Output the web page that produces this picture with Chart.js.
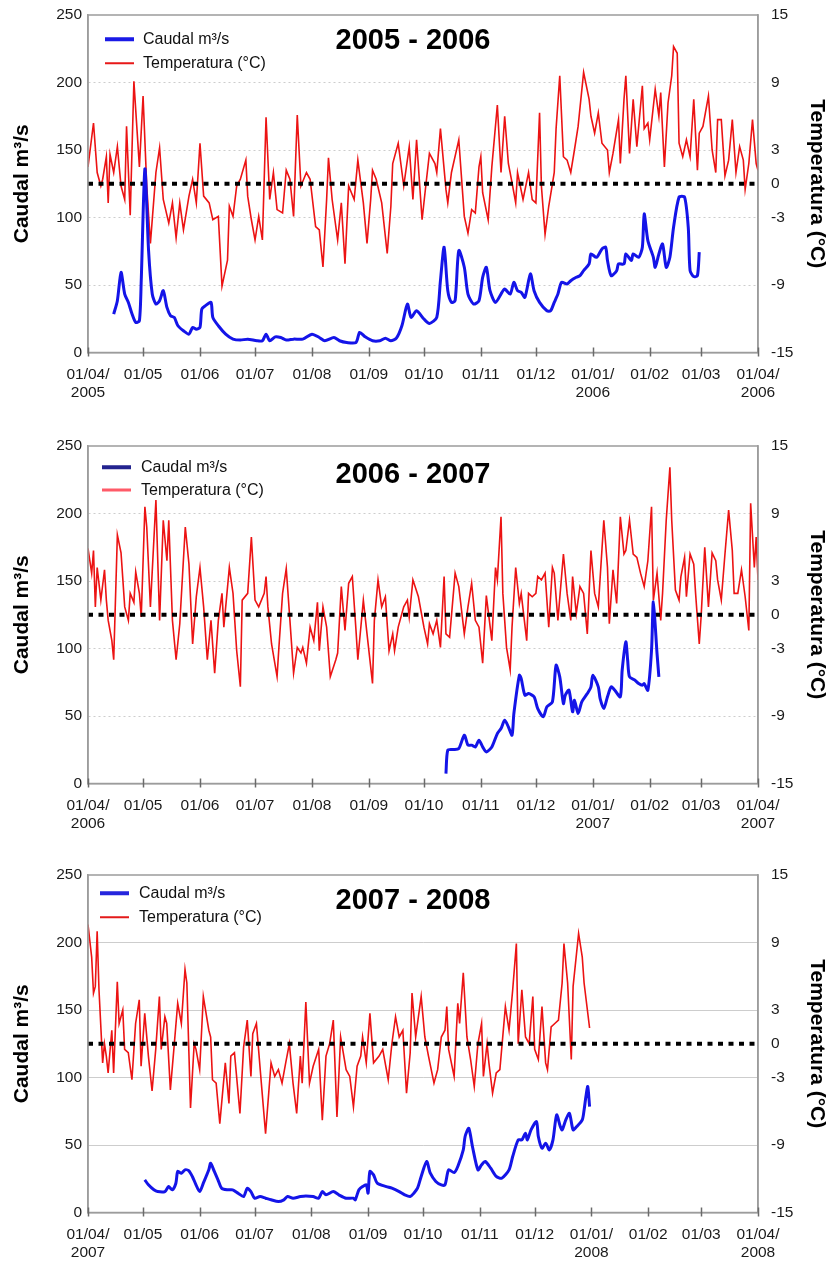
<!DOCTYPE html>
<html>
<head>
<meta charset="utf-8">
<script src="https://cdn.jsdelivr.net/npm/chart.js@4.4.0/dist/chart.umd.min.js"></script>
<style>
  html, body { margin: 0; padding: 0; background: #fff; width: 829px; height: 1261px; overflow: hidden; }
  .panel { position: absolute; left: 0; width: 829px; height: 405px; }
  .panel canvas { position: absolute; left: 0; top: 0; }
  .ttl { position: absolute; left: 413px; font: bold 29px "Liberation Sans", Arial, sans-serif; color: #000;
         white-space: nowrap; transform: translate(-50%, -50%); }
  .leg { position: absolute; font: 16px "Liberation Sans", Arial, sans-serif; color: #111; white-space: nowrap;
         transform: translateY(-50%); }
  .sw { position: absolute; transform: translateY(-50%); }
</style>
</head>
<body>
<div class="panel" id="p0" style="top:0px"><canvas id="c0" width="829" height="405"></canvas></div>
<div class="panel" id="p1" style="top:431px"><canvas id="c1" width="829" height="405"></canvas></div>
<div class="panel" id="p2" style="top:860px"><canvas id="c2" width="829" height="405"></canvas></div>

<script>
// ---- Axis labels ----
const monthText = ["01/04/", "01/05", "01/06", "01/07", "01/08", "01/09", "01/10",
                   "01/11", "01/12", "01/01/", "01/02", "01/03", "01/04/"];
const tempTicks = [-15, -9, -3, 0, 3, 9, 15];

// ---- Season 2005-2006 (day 0 = 01/04/2005) ----
const temp0506Days = [0,3,5,7,8,10,11,12,14,16,18,20,21,23,25,28,30,32,34,37,39,41,44,46,48,50,52,55,57,59,
  61,63,66,68,71,73,76,77,79,81,83,86,87,89,91,93,95,97,99,101,103,106,108,110,112,114,116,119,121,124,
  126,128,130,131,133,136,138,140,142,145,147,150,152,154,155,157,160,163,165,166,169,172,175,177,179,182,184,186,189,190,
  192,195,196,198,202,205,207,209,211,213,214,215,218,220,223,225,227,229,231,233,234,237,240,242,244,246,247,249,251,254,
  255,257,259,261,263,265,267,270,273,274,276,278,280,283,284,286,289,290,292,293,295,297,299,302,303,305,306,309,311,312,
  314,316,318,319,321,322,324,326,328,330,332,333,335,338,340,342,343,345,347,349,351,353,355,357,358,360,362,364,365];
const temp0506 = [1.5,5.4,1.0,-0.2,0.4,2.4,-1.7,2.6,1.0,3.3,-0.2,-1.4,5.1,-2.8,9.1,1.5,7.8,-0.2,-5.3,1.0,
  3.2,-1.4,-3.5,-1.7,-4.8,-1.7,-4.1,-1.1,0.4,-1.7,3.6,-1.1,-1.7,-3.2,-2.9,-9.1,-6.8,-2.0,-2.9,-0.2,
  0.4,2.1,-1.1,-3.2,-5.0,-2.9,-5.0,5.9,-1.4,1.0,-2.3,-2.6,1.2,0.4,-2.9,6.1,-0.2,1.0,0.4,-3.8,
  -4.1,-7.4,-1.4,2.3,-1.4,-5.0,-1.7,-7.1,-0.2,-1.4,2.1,-1.7,-5.3,-1.4,1.2,0.4,-1.7,-6.2,-2.0,1.8,
  3.6,-0.2,3.3,-1.4,3.9,-3.2,-0.2,2.7,1.8,1.0,4.9,-0.5,-1.7,1.0,3.9,-2.9,-4.4,-2.3,-2.6,1.5,
  2.4,-0.8,-3.2,1.5,7.0,1.0,6.0,1.8,0.1,-1.7,1.0,-1.4,1.0,-1.4,-1.7,6.3,-0.2,-4.5,-2.0,1.0,
  4.9,9.6,2.4,2.1,1.0,3.0,5.1,9.9,7.5,6.0,4.5,6.3,3.6,3.0,1.0,2.7,5.7,1.8,7.5,9.6,
  2.7,7.5,3.3,8.7,4.9,5.4,3.9,8.4,6.0,8.1,1.5,7.2,9.6,12.2,11.6,3.6,2.4,3.9,2.4,7.5,
  1.2,4.5,5.1,7.8,3.0,1.0,5.7,5.7,0.7,2.1,5.7,1.0,3.3,2.1,-0.5,1.8,5.7,1.8,1.2];
const flow0506Days = [14,16,18,20,22,24,26,28,29,31,33,35,37,39,41,43,45,47,49,52,
  55,57,59,61,62,64,67,68,71,75,79,83,87,92,95,97,99,102,105,108,
  112,117,122,126,129,134,137,141,146,148,151,155,159,162,165,168,171,174,176,179,
  183,186,190,192,194,196,198,200,202,205,207,210,213,215,217,219,222,225,227,230,
  232,234,236,238,241,243,246,250,252,254,256,258,261,263,266,268,270,273,274,277,
  280,282,283,285,288,289,292,293,296,297,300,302,303,305,308,309,311,313,315,317,
  319,322,325,327,328,330,332,333];
const flow0506 = [28.5,38.4,59.4,43.3,37.1,28.5,22.3,23.5,53.2,136,75.5,43.3,35.9,38.4,45.8,33.4,27.2,26.0,19.8,16.1,
  13.6,18.6,17.3,18.6,32.2,34.7,37.1,26.0,19.8,13.6,9.9,9.2,9.9,8.7,8.7,13.6,8.7,11.6,11.1,9.2,
  9.9,9.9,13.6,11.1,8.7,11.1,8.7,7.4,7.4,14.9,11.6,8.7,8.7,10.6,8.7,10.6,19.8,35.9,26.0,30.9,
  24.8,21.5,26.0,53.2,78.0,45.8,37.1,38.4,75.5,63.1,43.3,35.9,38.4,55.7,63.1,45.8,37.1,43.3,47.0,43.3,
  52.0,45.8,44.6,40.8,58.2,45.8,37.1,30.9,30.9,37.1,43.3,52.0,50.7,53.2,55.7,56.9,60.6,65.6,73.0,70.5,
  76.7,78.0,68.1,56.9,60.6,65.6,65.6,73.0,68.1,73.0,70.5,78.0,102.7,82.9,70.5,63.1,73.0,80.4,63.1,70.5,
  92.8,115.1,115.1,92.8,60.6,56.2,56.9,74.3];

// ---- Season 2006-2007 (day 0 = 01/04/2006) ----
const temp0607Days = [0,2,3,4,5,7,9,10,11,13,14,16,18,20,22,23,25,26,28,29,
  31,32,34,37,39,41,43,44,46,48,50,53,55,57,59,61,63,65,67,69,
  71,73,74,77,79,81,83,84,87,89,91,93,96,97,98,100,103,104,106,108,
  110,112,114,116,117,119,121,123,125,126,128,130,132,135,136,138,140,142,144,146,
  147,150,152,155,156,158,160,162,164,166,167,169,172,174,175,177,180,183,185,186,
  188,190,192,194,195,197,200,202,205,207,209,211,213,215,217,220,222,223,225,226,
  228,230,231,233,235,236,239,240,242,244,245,247,249,251,253,254,256,259,261,263,
  264,266,268,270,272,274,276,278,281,283,284,286,288,290,292,293,295,297,299,301,
  303,305,307,308,310,312,313,315,317,318,320,322,323,325,326,328,330,331,333,334,
  336,338,340,342,343,345,347,349,351,352,354,356,358,360,361,363,364,365];
const temp0607 = [5.9,3.7,5.7,0.7,4.2,1.3,4.0,1.3,-0.5,-2.3,-4.0,7.1,5.5,0.7,-0.5,1.9,1.1,3.8,1.9,-0.2,
  9.6,7.8,0.7,10.2,-0.5,8.4,4.8,8.4,-0.5,-4.0,-0.8,7.8,4.5,-2.6,1.6,4.2,0.7,-4.0,-0.5,-5.2,
  -0.5,1.9,-1.1,4.2,1.9,-3.2,-6.4,1.3,1.9,6.9,1.3,0.7,1.9,3.4,0.7,-2.6,-5.5,-2.9,1.9,4.1,
  -0.5,-5.2,-2.9,-3.4,-2.9,-4.3,-1.1,-2.3,1.1,-3.2,0.7,-1.1,-5.5,-4.0,-3.4,2.5,-1.4,2.8,3.4,-1.4,
  -4.0,1.3,-1.7,-6.1,-0.5,3.1,0.7,1.6,-3.2,-1.7,-3.2,-1.1,0.7,1.3,-0.2,3.1,1.6,-1.1,-2.6,-0.8,
  -1.7,-0.5,-2.9,3.4,-1.7,-2.0,3.7,2.5,-1.7,0.7,2.8,-0.5,-1.1,-4.3,1.7,-2.3,4.2,3.1,8.7,1.9,
  -2.9,-4.9,-1.1,4.2,1.0,1.9,-2.3,1.9,1.6,1.9,3.4,3.1,3.7,-1.1,4.2,3.7,-0.5,5.4,1.9,-0.5,
  3.4,0.1,2.5,1.9,-1.7,5.7,1.9,0.7,8.4,4.2,-0.8,4.0,1.0,8.7,5.4,5.7,8.4,5.4,5.1,3.7,
  2.5,4.8,9.6,1.3,3.7,-0.5,1.9,8.4,13.1,8.4,2.2,1.3,3.4,5.1,1.6,5.4,4.5,1.9,-2.6,-0.2,
  6.0,0.7,5.5,4.8,3.1,1.3,5.4,9.3,5.7,1.9,1.9,4.0,1.6,-1.4,9.9,4.2,6.9,3.1];
const flow0607Days = [195,196,199,202,205,207,209,211,213,215,217,220,223,225,227,229,231,232,235,236,
  238,240,243,245,248,250,253,255,257,259,260,262,264,265,267,269,272,274,275,278,
  279,281,283,285,287,290,291,293,294,295,298,300,302,303,305,307,308,310,311];
const flow0607 = [7.4,24.7,25.2,25.9,35.8,28.4,28.4,27.1,32.1,27.1,23.4,27.1,37.0,40.7,46.9,42.0,35.8,51.8,80.2,77.7,
  65.4,66.6,64.2,55.5,49.4,56.8,60.5,87.6,79.0,59.2,65.4,69.1,53.1,61.7,51.8,60.5,66.6,71.6,80.2,71.6,
  62.9,55.5,64.2,71.6,69.1,64.2,83.9,104.9,91.3,79.0,76.5,74.0,72.8,74.0,69.1,98.7,134.5,96.2,79.0];

// ---- Season 2007-2008 (day 0 = 01/04/2007) ----
const temp0708Days = [0,2,3,4,5,6,8,9,10,11,13,14,16,17,19,20,22,24,26,28,
  29,31,33,35,37,39,40,42,43,45,47,49,51,53,54,56,58,59,61,63,
  66,67,68,70,72,75,77,78,80,83,85,87,89,90,92,95,97,100,102,104,
  106,108,110,112,114,116,117,119,121,123,126,128,130,132,134,136,138,141,143,145,
  147,149,150,152,154,156,159,161,164,166,168,170,172,174,176,177,179,182,184,186,
  189,191,193,195,196,197,200,202,203,205,207,209,211,213,215,216,218,219,221,223,
  225,228,230,232,234,235,237,239,241,243,244,246,248,250,251,253,255,257,259,260,
  262,264,265,268,270,271,274];
const temp0708 = [10.6,7.7,4.5,5.1,10.0,4.8,-1.7,0.0,-1.1,-2.6,1.2,-2.6,5.5,1.8,3.0,-0.5,-0.8,-3.2,1.8,3.9,
  -2.0,2.7,-1.1,-4.2,-0.5,4.2,-0.5,2.4,1.8,-4.1,-0.3,3.6,1.8,6.6,5.4,-5.7,0.0,-0.5,-2.3,4.2,
  1.2,0.6,-3.2,-3.5,-7.1,-1.7,-5.3,-1.1,-0.8,-6.2,-0.3,2.1,-2.9,0.9,1.8,-4.1,-8.0,-1.7,-2.9,-2.3,
  -3.5,-1.7,0.0,-3.5,-6.2,-1.1,-3.5,3.7,-3.5,-2.0,-0.5,-6.8,-1.1,0.0,2.1,-6.5,0.6,-2.3,-2.9,-5.6,
  -2.0,-1.1,0.6,-1.7,2.7,-1.7,-1.1,-0.5,-3.2,0.0,2.4,0.6,1.2,-4.4,-0.8,4.5,0.6,4.2,0.6,-1.1,
  -3.5,-2.3,0.6,1.2,3.3,-0.5,-2.9,3.6,1.8,6.3,0.6,-1.4,-3.8,0.0,1.8,-2.9,0.0,-1.7,-4.4,-2.6,
  -2.3,3.3,1.2,4.8,8.9,0.0,4.8,0.6,0.0,4.2,-0.5,-1.4,3.3,-1.7,-2.3,1.5,1.8,2.1,5.4,8.9,
  5.4,-1.4,5.1,9.8,7.7,5.4,1.4];
const flow0708Days = [31,33,36,38,42,44,46,48,49,51,53,55,57,59,61,63,66,67,69,71,
  73,76,79,82,85,87,89,91,94,97,100,104,107,109,112,116,119,123,126,128,
  130,134,137,141,145,146,148,150,152,153,154,156,158,163,166,170,173,176,178,180,
  182,185,187,190,193,195,197,200,202,205,206,208,210,213,215,217,220,223,226,230,
  232,235,237,239,240,242,245,246,248,250,252,254,256,258,259,261,263,265,267,270,
  271,272,273,274];
const flow0708 = [24.2,20.5,16.8,15.5,15.5,19.2,16.8,21.7,30.4,29.1,31.6,31.1,26.7,20.5,15.5,21.7,31.6,36.5,30.4,24.2,
  18.0,16.8,16.8,14.3,11.8,18.0,15.5,10.6,11.8,10.6,9.4,8.1,9.4,11.8,10.6,11.8,12.3,11.8,10.6,15.5,
  13.1,15.5,13.1,10.6,10.6,9.4,16.8,19.2,20.5,14.3,30.4,27.9,21.7,19.2,18.0,15.5,13.1,11.8,14.3,18.0,
  26.7,37.8,29.1,23.0,20.5,20.5,31.6,29.6,34.1,46.4,56.3,62.4,48.9,31.6,35.3,37.8,32.8,26.7,25.4,31.6,
  41.5,53.8,53.8,58.7,53.8,61.2,67.4,56.3,47.6,51.3,46.4,53.8,72.3,63.7,61.2,68.6,73.5,61.2,63.7,68.6,
  76.0,85.9,93.3,78.5];

// ---- Panels ----
const FONT = '"Liberation Sans", Arial, sans-serif';
const panels = [
  { id: 0, startYear: 2005, title: '2005 - 2006', tempDays: temp0506Days, temp: temp0506,
    flowDays: flow0506Days, flow: flow0506, gridDash: [2, 3],
    titleY: 39, legY: [39, 63], legX: [105, 143], legBlue: '#1a1ae6', legRed: '#e81818', legRedW: 1.5 },
  { id: 1, startYear: 2006, title: '2006 - 2007', tempDays: temp0607Days, temp: temp0607,
    flowDays: flow0607Days, flow: flow0607, gridDash: [2, 3],
    titleY: 41.5, legY: [36, 59], legX: [102, 141], legBlue: '#23238f', legRed: '#ff5a68', legRedW: 3 },
  { id: 2, startYear: 2007, title: '2007 - 2008', tempDays: temp0708Days, temp: temp0708,
    flowDays: flow0708Days, flow: flow0708, gridDash: [],
    titleY: 38.5, legY: [33, 57], legX: [100, 139], legBlue: '#2525dd', legRed: '#e41a1a', legRedW: 1.5 }
];

const DAY = 86400000;
function monthStarts(y) {
  const t0 = Date.UTC(y, 3, 1);
  const out = [];
  for (let m = 0; m <= 12; m++) out.push(Math.round((Date.UTC(y, 3 + m, 1) - t0) / DAY));
  return out;
}
function tickLabels(y) {
  return monthText.map((t, i) => {
    if (i === 0) return [t, String(y)];
    if (i === 9 || i === 12) return [t, String(y + 1)];
    return t;
  });
}
function pairs(xs, ys) { return xs.map((x, i) => ({ x: x, y: ys[i] })); }

// Plot frame plus the small tick marks that cross the date axis
const framePlugin = {
  id: 'frame',
  afterDraw(chart) {
    const { ctx, chartArea: a, scales: { x } } = chart;
    ctx.save();
    ctx.strokeStyle = '#9c9c9c';
    ctx.lineWidth = 1.5;
    ctx.strokeRect(a.left, a.top, a.right - a.left, a.bottom - a.top);
    ctx.strokeStyle = '#6a6a6a';
    ctx.lineWidth = 1.5;
    x.ticks.forEach(t => {
      const px = Math.round(x.getPixelForValue(t.value)) + 0.5;
      ctx.beginPath();
      ctx.moveTo(px, a.bottom - 5);
      ctx.lineTo(px, a.bottom + 4);
      ctx.stroke();
    });
    ctx.restore();
  }
};

// Vertical axes: fixed widths, no extra room reserved for the end labels
function fixVertical(width) {
  return s => { s.width = width; s.paddingTop = 0; s.paddingBottom = 0; };
}

panels.forEach(p => {
  const ticksX = monthStarts(p.startYear);
  const labels = tickLabels(p.startYear);
  const nDays = ticksX[12];

  new Chart(document.getElementById('c' + p.id), {
    type: 'line',
    data: {
      datasets: [
        { label: 'Caudal m³/s', data: pairs(p.flowDays, p.flow), yAxisID: 'y',
          borderColor: '#1414e8', borderWidth: 3, pointRadius: 0, tension: 0.25, fill: false },
        { label: '0 °C', data: [{ x: 0, y: 0 }, { x: nDays, y: 0 }], yAxisID: 'yT',
          borderColor: '#000', borderWidth: 4, borderDash: [5, 5.5], borderCapStyle: 'butt', pointRadius: 0 },
        { label: 'Temperatura (°C)', data: pairs(p.tempDays, p.temp), yAxisID: 'yT',
          borderColor: '#ec1313', borderWidth: 1.6, pointRadius: 0, tension: 0, fill: false }
      ]
    },
    options: {
      responsive: false,
      animation: false,
      devicePixelRatio: 1,
      layout: { padding: { top: 15, left: 0, right: 0, bottom: 0 } },
      plugins: { legend: { display: false }, tooltip: { enabled: false } },
      scales: {
        x: {
          type: 'linear', min: 0, max: nDays,
          afterBuildTicks: s => { s.ticks = ticksX.map(v => ({ value: v })); },
          afterFit: s => { s.height = 52.5; },
          ticks: { autoSkip: false, maxRotation: 0, padding: 13, color: '#1a1a1a',
                   font: { family: FONT, size: 15.5, lineHeight: 1.18 },
                   callback: (v, i) => labels[i] },
          grid: { display: false, drawTicks: false },
          border: { display: true, color: '#9c9c9c', width: 1.5 }
        },
        y: {
          position: 'left', min: 0, max: 250,
          afterFit: fixVertical(88),
          ticks: { stepSize: 50, padding: 6, color: '#1a1a1a', font: { family: FONT, size: 15.5 } },
          grid: { drawTicks: false, lineWidth: 1,
                  color: c => (c.tick && (c.tick.value === 0 || c.tick.value === 250)) ? 'rgba(0,0,0,0)' : '#cdcdcd' },
          border: { display: true, color: '#9c9c9c', width: 1.5, dash: p.gridDash },
          title: { display: true, text: 'Caudal m³/s', color: '#000',
                   font: { family: FONT, size: 21, weight: 'bold' }, padding: { top: 10, bottom: 0 } }
        },
        yT: {
          position: 'right', min: -15, max: 15,
          afterBuildTicks: s => { s.ticks = tempTicks.map(v => ({ value: v })); },
          afterFit: fixVertical(71),
          ticks: { padding: 13, color: '#1a1a1a', font: { family: FONT, size: 15.5 } },
          grid: { drawOnChartArea: false, drawTicks: false },
          border: { display: true, color: '#9c9c9c', width: 1.5 },
          title: { display: true, text: 'Temperatura (°C)', color: '#000',
                   font: { family: FONT, size: 21, weight: 'bold' }, padding: { top: 0, bottom: 0 } }
        }
      }
    },
    plugins: [framePlugin]
  });

  // Season title and in-plot legend
  const host = document.getElementById('p' + p.id);
  const t = document.createElement('div');
  t.className = 'ttl';
  t.style.top = p.titleY + 'px';
  t.textContent = p.title;
  host.appendChild(t);

  const entries = [
    { text: 'Caudal m³/s', color: p.legBlue, w: 3.5 },
    { text: 'Temperatura (°C)', color: p.legRed, w: p.legRedW }
  ];
  entries.forEach((e, i) => {
    const sw = document.createElement('div');
    sw.className = 'sw';
    sw.style.left = p.legX[0] + 'px';
    sw.style.top = p.legY[i] + 'px';
    sw.style.width = '29px';
    sw.style.height = e.w + 'px';
    sw.style.background = e.color;
    host.appendChild(sw);
    const tx = document.createElement('div');
    tx.className = 'leg';
    tx.style.left = p.legX[1] + 'px';
    tx.style.top = p.legY[i] + 'px';
    tx.textContent = e.text;
    host.appendChild(tx);
  });
});
</script>
</body>
</html>
